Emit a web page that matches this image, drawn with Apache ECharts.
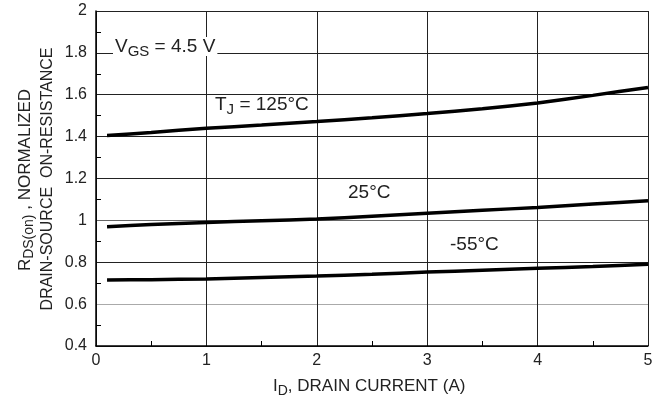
<!DOCTYPE html>
<html>
<head>
<meta charset="utf-8">
<script src="https://cdn.jsdelivr.net/npm/echarts@6/dist/echarts.min.js"></script>
<style>
html,body{margin:0;padding:0;background:#fff;}
#c{width:665px;height:401px;}
</style>
</head>
<body>
<div id="c"></div>
<script>
var current = [0.1, 0.5, 1, 1.5, 2, 2.5, 3, 3.5, 4, 4.5, 5];
var r125 = [1.405, 1.42, 1.44, 1.455, 1.472, 1.49, 1.51, 1.533, 1.561, 1.597, 1.635];
var r25 = [0.97, 0.98, 0.99, 0.998, 1.006, 1.02, 1.034, 1.048, 1.062, 1.078, 1.094];
var rm55 = [0.715, 0.717, 0.72, 0.727, 0.734, 0.743, 0.753, 0.762, 0.771, 0.78, 0.79];
var xTicks = [0, 1, 2, 3, 4, 5];
var yTicks = [0.4, 0.6, 0.8, 1, 1.2, 1.4, 1.6, 1.8, 2];

function pairs(ys){ return current.map(function(x,i){ return [x, ys[i]]; }); }

var FONT = '"Liberation Sans", Arial, sans-serif';
var chart = echarts.init(document.getElementById('c'), null, {renderer:'canvas'});
var lineStyle = {color:'#000', width:3.5};
function ser(name, ys){
  return {name:name, type:'line', data:pairs(ys), showSymbol:false, smooth:0.2,
    lineStyle:lineStyle, silent:true, z:3};
}
chart.setOption({
  animation:false,
  backgroundColor:'#fff',
  grid:{left:96, right:17, top:11, bottom:55},
  xAxis:{type:'value', min:xTicks[0], max:xTicks[xTicks.length-1], interval:1,
    axisLine:{lineStyle:{color:'#000', width:1.5}},
    axisTick:{show:false},
    minorTick:{show:true, splitNumber:2, length:-5, lineStyle:{color:'#000'}},
    axisLabel:{fontFamily:FONT, fontSize:16, color:'#222', margin:7,
      formatter:function(v){ return xTicks.indexOf(v)>=0 ? String(v) : ''; }},
    splitLine:{show:true, lineStyle:{color:'#222', width:1}}
  },
  yAxis:{type:'value', min:yTicks[0], max:yTicks[yTicks.length-1], interval:0.2,
    axisLine:{lineStyle:{color:'#000', width:1.5}},
    axisTick:{show:false},
    minorTick:{show:true, splitNumber:2, length:-5, lineStyle:{color:'#000'}},
    axisLabel:{fontFamily:FONT, fontSize:16, color:'#222', margin:9,
      formatter:function(v){ return String(Math.round(v*10)/10); }},
    splitLine:{show:true, lineStyle:{color:['#222','#aaa','#222','#666','#222','#222','#222','#222','#222'], width:1}}
  },
  series:[ser('TJ = 125°C', r125), ser('25°C', r25), ser('-55°C', rm55)],
  graphic:[
    {type:'text', left:113, top:34, z:10, style:{
      text:'{m|V}{s|GS}{m| = 4.5 V}', backgroundColor:'#fff', padding:[0,2],
      rich:{m:{fontFamily:FONT, fontSize:19, lineHeight:19, fill:'#222'},
            s:{fontFamily:FONT, fontSize:15, lineHeight:15, fill:'#222', padding:[10,0,0,0]}}}},
    {type:'text', left:213, top:92, z:10, style:{
      text:'{m|T}{s|J}{m| = 125°C}', backgroundColor:'#fff', padding:[0,2],
      rich:{m:{fontFamily:FONT, fontSize:19, lineHeight:19, fill:'#222'},
            s:{fontFamily:FONT, fontSize:15, lineHeight:15, fill:'#222', padding:[10,0,0,0]}}}},
    {type:'text', left:348, top:183, z:10, style:{text:'25°C', font:'19px '+FONT, fill:'#222'}},
    {type:'text', left:450, top:235, z:10, style:{text:'-55°C', font:'19px '+FONT, fill:'#222'}},
    {type:'text', left:273, top:374, z:10, style:{
      text:'{m|I}{s|D}{m|, DRAIN CURRENT (A)}',
      rich:{m:{fontFamily:FONT, fontSize:17, lineHeight:17, fill:'#222'},
            s:{fontFamily:FONT, fontSize:14, lineHeight:14, fill:'#222', padding:[10,0,0,0]}}}},
    {type:'text', x:25, y:180, rotation:Math.PI/2, z:10, style:{
      text:'{m|R}{s|DS(on)}{m| , NORMALIZED}', align:'center', verticalAlign:'middle',
      rich:{m:{fontFamily:FONT, fontSize:17, lineHeight:17, fill:'#222'},
            s:{fontFamily:FONT, fontSize:14, lineHeight:14, fill:'#222', padding:[8,0,0,0]}}}},
    {type:'text', x:48, y:179, rotation:Math.PI/2, z:10, style:{
      text:'DRAIN-SOURCE  ON-RESISTANCE', align:'center', verticalAlign:'middle',
      font:'16px '+FONT, fill:'#222'}}
  ]
});
</script>
</body>
</html>
